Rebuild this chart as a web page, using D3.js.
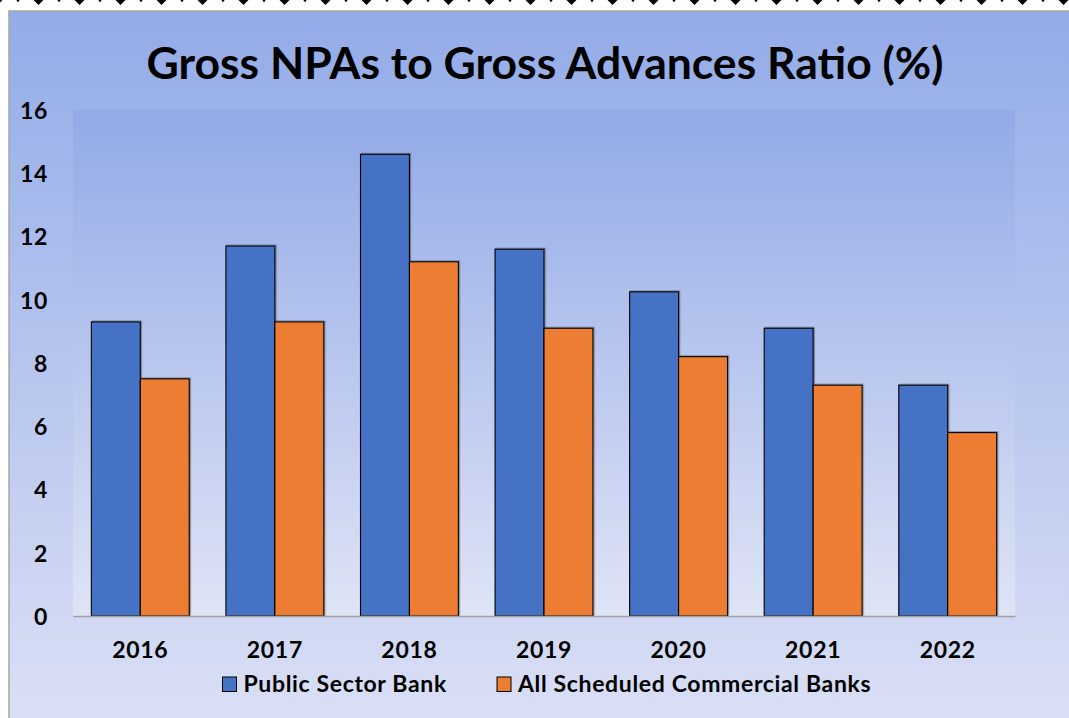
<!DOCTYPE html>
<html>
<head>
<meta charset="utf-8">
<script src="https://cdn.jsdelivr.net/npm/d3@7"></script>
<style>
  html, body { margin: 0; padding: 0; background: #ffffff; }
  svg { display: block; }
  text { font-family: Lato, "Open Sans", sans-serif; font-weight: 700; fill: #000; }
</style>
</head>
<body>
<svg id="chart" width="1069" height="718"></svg>
<script>
// Gross NPA ratios (%) by year
const years = ["2016", "2017", "2018", "2019", "2020", "2021", "2022"];
const seriesNames = ["Public Sector Bank", "All Scheduled Commercial Banks"];
const publicSectorBank = [9.3, 11.7, 14.6, 11.6, 10.25, 9.1, 7.3];
const allScheduledCommercialBanks = [7.5, 9.3, 11.2, 9.1, 8.2, 7.3, 5.8];
const yTicks = [0, 2, 4, 6, 8, 10, 12, 14, 16];
const titleText = "Gross NPAs to Gross Advances Ratio (%)";

const rows = years.map((y, i) => ({
  year: y,
  values: [publicSectorBank[i], allScheduledCommercialBanks[i]]
}));
const colors = ["#4472C4", "#ED7D31"];

const svg = d3.select("#chart");
const W = 1069, H = 718;

const defs = svg.append("defs");
const bgGrad = defs.append("linearGradient").attr("id", "bgGrad")
  .attr("x1", 0).attr("y1", 0).attr("x2", 0).attr("y2", 1);
bgGrad.append("stop").attr("offset", "0%").attr("stop-color", "#93abe8");
bgGrad.append("stop").attr("offset", "100%").attr("stop-color", "#dbe0f5");
const plotGrad = defs.append("linearGradient").attr("id", "plotGrad")
  .attr("x1", 0).attr("y1", 0).attr("x2", 0).attr("y2", 1);
plotGrad.append("stop").attr("offset", "0%").attr("stop-color", "#93aae7");
plotGrad.append("stop").attr("offset", "100%").attr("stop-color", "#dfe4f6");
const shadow = defs.append("filter").attr("id", "barShadow")
  .attr("x", "-10%").attr("y", "-10%").attr("width", "130%").attr("height", "130%");
shadow.append("feDropShadow").attr("dx", 1.2).attr("dy", -0.8).attr("stdDeviation", 0.6)
  .attr("flood-color", "#333").attr("flood-opacity", 0.45);

// decorative dotted edge along the top
const deco = svg.append("g");
deco.selectAll("path.diamond").data(d3.range(-3, 28)).join("path")
  .attr("class", "diamond")
  .attr("d", i => { const cx = 38.5 + i * 41; return `M${cx - 5},0 L${cx},5 L${cx + 5},0 Z`; })
  .attr("fill", "#000");
deco.selectAll("circle.dot").data(d3.range(-3, 28)).join("circle")
  .attr("class", "dot")
  .attr("cx", i => 18 + i * 41).attr("cy", 0.5).attr("r", 1.3)
  .attr("fill", "#000");

// chart frame
svg.append("rect")
  .attr("x", 9).attr("y", 11).attr("width", W + 20).attr("height", H)
  .attr("fill", "url(#bgGrad)")
  .attr("stroke", "#a6a6a6").attr("stroke-width", 1.5);

// plot area
const plot = { left: 73, right: 1015, top: 110, bottom: 616 };
svg.append("rect")
  .attr("x", plot.left).attr("y", plot.top)
  .attr("width", plot.right - plot.left).attr("height", plot.bottom - plot.top)
  .attr("fill", "url(#plotGrad)");

// title
svg.append("text")
  .attr("x", 545).attr("y", 79)
  .attr("text-anchor", "middle")
  .style("font-size", "44.5px")
  .text(titleText);

// scales
const x0 = d3.scaleBand().domain(years)
  .range([plot.left, plot.right])
  .paddingInner(0.75 / 2.75).paddingOuter(0.75 / 5.5);
const x1 = d3.scaleBand().domain(d3.range(seriesNames.length))
  .range([0, x0.bandwidth()]);
const y = d3.scaleLinear().domain([0, 16]).range([plot.bottom, plot.top]);

// bars
const groups = svg.append("g").selectAll("g").data(rows).join("g")
  .attr("transform", d => `translate(${x0(d.year)},0)`);
groups.selectAll("rect").data(d => d.values.map((v, k) => ({ v, k }))).join("rect")
  .attr("x", d => x1(d.k))
  .attr("y", d => y(d.v))
  .attr("width", x1.bandwidth())
  .attr("height", d => y(0) - y(d.v))
  .attr("fill", d => colors[d.k])
  .attr("stroke", "#000").attr("stroke-width", 1.1)
  .attr("filter", "url(#barShadow)");

// y axis
const yAxis = svg.append("g")
  .attr("transform", `translate(${plot.left - 25},0)`)
  .call(d3.axisLeft(y).tickValues(yTicks).tickSize(0).tickPadding(0).tickFormat(d3.format("d")));
yAxis.select(".domain").remove();
yAxis.selectAll("text")
  .style("font-size", "23px").style("font-family", "Lato, sans-serif")
  .style("letter-spacing", "0.6px")
  .attr("dy", "0.36em");

// x axis
const xAxis = svg.append("g")
  .attr("transform", `translate(0,${plot.bottom})`)
  .call(d3.axisBottom(x0).tickSize(0).tickPadding(26));
xAxis.select(".domain").attr("stroke", "#a0a0a0").attr("stroke-width", 1.5);
xAxis.selectAll("text")
  .style("font-size", "23px").style("font-family", "Lato, sans-serif")
  .style("letter-spacing", "0.7px");

// legend
const legendItems = [
  { name: seriesNames[0], color: colors[0], x: 222.5 },
  { name: seriesNames[1], color: colors[1], x: 497 }
];
const legend = svg.append("g").selectAll("g").data(legendItems).join("g")
  .attr("transform", d => `translate(${d.x},677)`);
legend.append("rect")
  .attr("width", 14).attr("height", 14.5)
  .attr("fill", d => d.color).attr("stroke", "#000").attr("stroke-width", 1);
legend.append("text")
  .attr("x", 21).attr("y", 15)
  .style("font-size", "23px")
  .style("letter-spacing", "0.65px")
  .text(d => d.name);
</script>
</body>
</html>
